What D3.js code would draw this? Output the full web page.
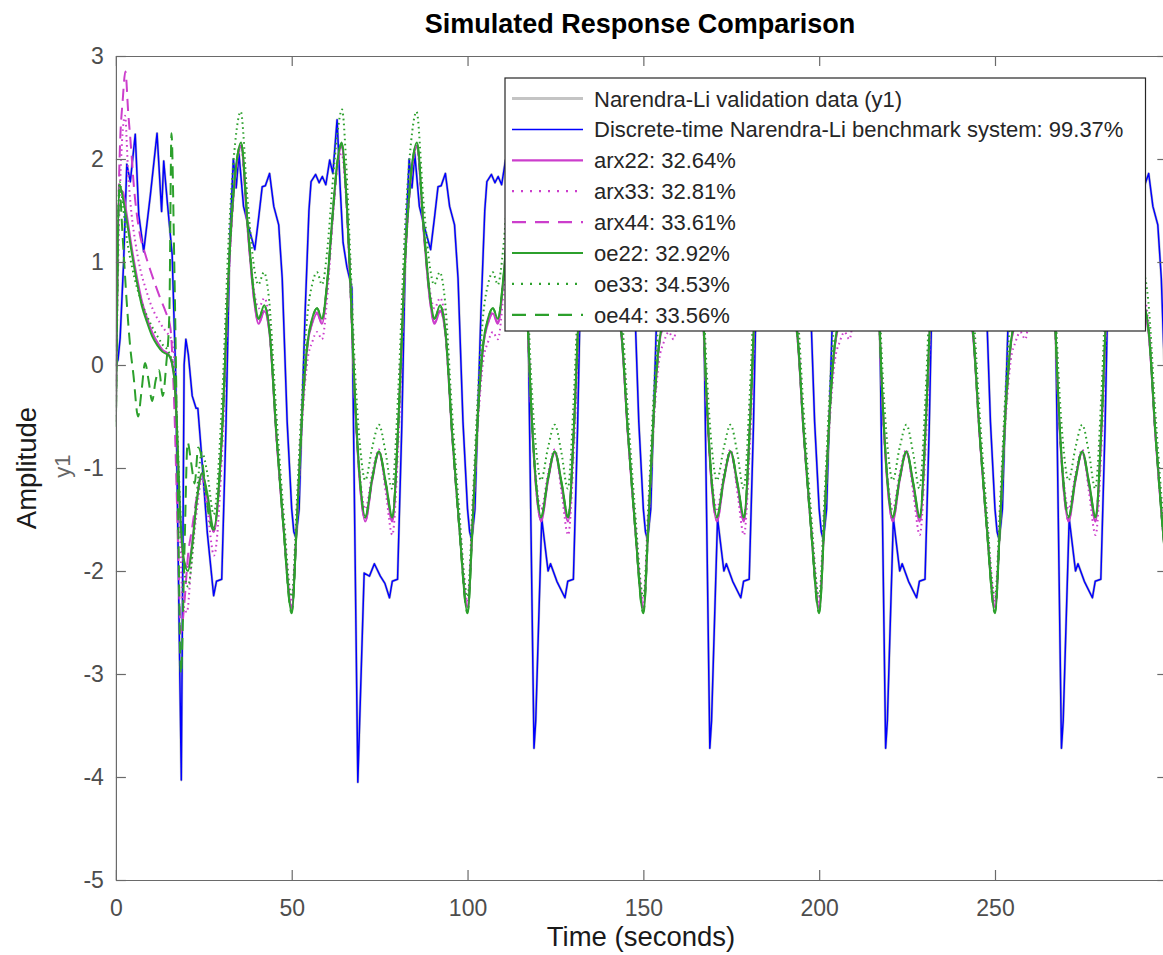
<!DOCTYPE html>
<html><head><meta charset="utf-8">
<script src="https://cdn.jsdelivr.net/npm/d3@7"></script>
<style>
body{margin:0;background:#fff;}
text{font-family:"Liberation Sans",Arial,Helvetica,sans-serif;}
</style>
</head><body>
<svg id="c" width="1163" height="955"></svg>
<script>
// ---------------- data ----------------
const timeTicks = [0, 50, 100, 150, 200, 250];
const ampTicks = [-5, -4, -3, -2, -1, 0, 1, 2, 3];
const legendLabels = [
  "Narendra-Li validation data (y1)",
  "Discrete-time Narendra-Li benchmark system: 99.37%",
  "arx22: 32.64%",
  "arx33: 32.81%",
  "arx44: 33.61%",
  "oe22: 32.92%",
  "oe33: 34.53%",
  "oe44: 33.56%"
];
// start times of the repeating 50 s input cycle seen in the picture
const cycleStarts = [50, 100, 150, 200, 250];

// benchmark system (blue), first 50 s [t, y]
const blueFirst = [[0,0.00],[0.6,0.05],[1.2,0.26],[2.2,1.00],[3.1,1.95],[4.1,1.78],[5.5,2.24],[6.5,1.46],[7.9,1.10],[9.8,1.65],[11.7,2.25],[13.0,1.49],[13.6,1.98],[14.6,1.59],[16.0,1.07],[17.0,-0.10],[18.6,-4.03],[19.4,0.00],[19.9,0.25],[20.6,0.10],[21.7,-0.30],[22.8,-0.42],[23.3,-0.42],[24.1,-0.76],[26.0,-1.63],[27.8,-2.24],[28.6,-2.10],[30.1,-2.08],[31.3,-0.60],[32.4,1.20],[33.4,2.00],[34.2,1.72],[35.0,2.05],[36.3,1.54],[37.8,1.33],[39.5,1.12],[40.6,1.43],[41.6,1.73],[42.5,1.74],[43.7,1.86],[44.9,1.54],[46.3,1.36],[47.3,0.84],[48.7,-0.55]];
// blue, cycle starting at 50 [offset, y]
const blueCycleA = [[0,-1.40],[0.6,-1.62],[1.2,-1.68],[2.1,-1.40],[3.8,0.50],[4.9,1.50],[5.5,1.78],[6.8,1.85],[7.8,1.77],[8.7,1.83],[9.7,1.75],[10.8,1.99],[11.7,1.86],[12.9,2.38],[13.8,1.71],[14.6,1.19],[15.7,0.95],[17.1,0.75],[18.8,-4.05],[20.6,-2.02],[22.1,-2.05],[23.5,-1.93],[25.2,-2.05],[26.5,-2.12],[27.8,-2.26],[28.6,-2.10],[30.1,-2.08],[31.3,-0.60],[32.4,1.20],[33.4,2.00],[34.2,1.72],[35.0,2.05],[36.3,1.54],[37.8,1.33],[39.5,1.12],[40.6,1.43],[41.6,1.73],[42.5,1.74],[43.7,1.86],[44.9,1.54],[46.3,1.36],[47.3,0.84],[48.7,-0.55],[50,-1.40]];
// blue, later cycles [offset, y]
const blueCycleB = [[0,-1.40],[0.6,-1.62],[1.2,-1.70],[2.1,-1.40],[3.8,0.50],[4.9,1.50],[5.5,1.78],[6.8,1.85],[7.8,1.77],[8.7,1.83],[9.7,1.75],[10.8,1.99],[11.7,1.86],[12.9,2.38],[13.8,1.71],[14.6,1.19],[15.7,0.95],[17.1,0.75],[18.9,-3.72],[19.4,-3.45],[21.1,-1.49],[22.9,-2.00],[23.6,-1.93],[25.4,-2.10],[27.7,-2.26],[28.5,-2.10],[30.1,-2.08],[31.3,-0.60],[32.4,1.20],[33.4,2.00],[34.2,1.72],[35.0,2.05],[36.3,1.54],[37.8,1.33],[39.5,1.12],[40.6,1.43],[41.6,1.73],[42.5,1.74],[43.7,1.86],[44.9,1.54],[46.3,1.36],[47.3,0.84],[48.7,-0.55],[50,-1.40]];

const arx22First = [[0,-0.55],[1,1.70],[2,1.68],[3,1.48],[4.6,1.12],[6,0.85],[7.4,0.62],[8.8,0.46],[10.3,0.32],[11.8,0.22],[13.2,0.15],[15.1,0.10],[16.5,-0.10],[17.3,-0.60],[18.3,-1.50],[19.4,-1.92],[20.5,-1.96],[21.6,-1.75],[22.9,-1.35],[24.5,-1.05],[26.0,-1.28],[27.8,-1.62],[30.4,-0.52],[32.2,0.98],[34.0,1.85],[35.6,2.12],[37.5,1.30],[39.4,0.60],[40.6,0.40],[42.2,0.52],[43.7,0.30],[45.6,-0.68],[47.6,-1.55]];
const arx22Cycle = [[0,-2.35],[1.5,-1.48],[3.0,-0.45],[4.5,0.20],[5.8,0.40],[7.2,0.50],[8.6,0.40],[10.2,0.82],[11.6,1.42],[13.0,1.95],[14.2,2.12],[15.4,1.70],[16.5,0.92],[17.9,-0.28],[19.5,-1.20],[20.9,-1.52],[22.9,-1.12],[24.8,-0.85],[26.8,-1.18],[28.6,-1.52],[30.4,-0.52],[32.2,0.98],[34.0,1.85],[35.6,2.12],[37.5,1.30],[39.4,0.60],[40.6,0.40],[42.2,0.52],[43.7,0.30],[45.6,-0.68],[47.6,-1.55],[50,-2.35]];

const arx33First = [[0,-0.30],[1,1.50],[2,2.30],[2.6,2.42],[3.5,1.85],[4.5,1.45],[5.5,1.20],[7,0.92],[8.4,0.75],[9.8,0.60],[11.2,0.49],[12.7,0.40],[14.1,0.33],[16,0.23],[17,-0.20],[18,-1.30],[19,-2.30],[20.2,-2.40],[21.5,-1.90],[22.9,-1.45],[24.5,-1.10],[26,-1.40],[27.9,-1.85],[30.4,-0.70],[32.2,0.90],[34.0,1.85],[35.6,2.10],[37.5,1.35],[39.4,0.70],[40.6,0.55],[42.2,0.65],[43.7,0.40],[45.6,-0.65],[47.6,-1.50]];
const arx33Cycle = [[0,-2.30],[1.5,-1.50],[3.0,-0.55],[4.5,0.05],[5.8,0.22],[7.2,0.32],[8.6,0.25],[10.2,0.70],[11.6,1.38],[13.0,1.92],[14.2,2.05],[15.4,1.65],[16.5,0.90],[17.9,-0.30],[19.5,-1.10],[20.9,-1.40],[22.9,-1.05],[24.8,-0.82],[26.8,-1.25],[28.6,-1.65],[30.4,-0.70],[32.2,0.90],[34.0,1.85],[35.6,2.10],[37.5,1.35],[39.4,0.70],[40.6,0.55],[42.2,0.65],[43.7,0.40],[45.6,-0.65],[47.6,-1.50],[50,-2.30]];

const arx44First = [[0,-0.20],[1,1.95],[2,2.60],[2.7,2.85],[3.5,2.45],[4.1,2.20],[5.2,1.70],[6.5,1.33],[8.4,1.07],[9.8,0.92],[11.2,0.78],[12.7,0.64],[14.1,0.52],[15.5,0.36],[16.5,-0.30],[17.5,-1.50],[18.5,-2.60],[19.5,-2.30],[20.5,-1.85],[21.6,-1.60],[22.9,-1.30],[24.5,-1.05],[26,-1.30],[27.8,-1.62],[30.4,-0.52],[32.2,0.98],[34.0,1.85],[35.6,2.13],[37.5,1.31],[39.4,0.61],[40.6,0.41],[42.2,0.53],[43.7,0.31],[45.6,-0.67],[47.6,-1.55]];
const arx44Cycle = [[0,-2.36],[1.5,-1.49],[3.0,-0.46],[4.5,0.19],[5.8,0.41],[7.2,0.51],[8.6,0.41],[10.2,0.83],[11.6,1.43],[13.0,1.96],[14.2,2.13],[15.4,1.71],[16.5,0.93],[17.9,-0.27],[19.5,-1.19],[20.9,-1.51],[22.9,-1.11],[24.8,-0.85],[26.8,-1.17],[28.6,-1.51],[30.4,-0.51],[32.2,0.99],[34.0,1.86],[35.6,2.13],[37.5,1.31],[39.4,0.61],[40.6,0.41],[42.2,0.53],[43.7,0.31],[45.6,-0.67],[47.6,-1.55],[50,-2.36]];

const oe22First = [[0,-0.60],[1,1.75],[2,1.62],[3,1.42],[4.6,1.07],[6,0.80],[7.4,0.57],[8.8,0.42],[10.3,0.28],[11.8,0.19],[13.2,0.13],[15.1,0.09],[16.5,-0.10],[17.3,-0.55],[18.3,-1.45],[19.4,-1.90],[20.5,-2.00],[21.6,-1.78],[22.9,-1.35],[24.5,-1.05],[26.0,-1.25],[27.8,-1.58],[30.4,-0.50],[32.2,1.00],[34.0,1.88],[35.6,2.16],[37.5,1.35],[39.4,0.65],[40.6,0.45],[42.2,0.58],[43.7,0.33],[45.6,-0.65],[47.6,-1.55]];
const oe22Cycle = [[0,-2.40],[1.5,-1.50],[3.0,-0.45],[4.5,0.22],[5.8,0.45],[7.2,0.55],[8.6,0.45],[10.2,0.85],[11.6,1.45],[13.0,1.98],[14.2,2.16],[15.4,1.72],[16.5,0.95],[17.9,-0.25],[19.5,-1.15],[20.9,-1.47],[22.9,-1.10],[24.8,-0.84],[26.8,-1.15],[28.6,-1.47],[30.4,-0.50],[32.2,1.00],[34.0,1.88],[35.6,2.16],[37.5,1.35],[39.4,0.65],[40.6,0.45],[42.2,0.58],[43.7,0.33],[45.6,-0.65],[47.6,-1.55],[50,-2.40]];

const oe33First = [[0,-0.55],[1,1.78],[2,1.55],[3,1.25],[4.6,0.95],[6,0.75],[7.4,0.60],[8.8,0.48],[10.3,0.37],[11.8,0.28],[13.2,0.20],[15.1,0.12],[16.5,-0.05],[17.3,-0.50],[18.3,-1.40],[19.4,-2.00],[20.5,-2.15],[21.6,-1.90],[22.9,-1.30],[24.5,-0.85],[26.0,-1.05],[27.8,-1.45],[30.3,-0.25],[32.1,1.25],[33.9,2.15],[35.5,2.46],[37.4,1.62],[39.3,0.95],[40.5,0.78],[42.1,0.90],[43.6,0.62],[45.5,-0.40],[47.5,-1.35]];
const oe33Cycle = [[0,-2.25],[1.5,-1.30],[3.0,-0.25],[4.5,0.50],[5.8,0.78],[7.2,0.90],[8.6,0.78],[10.2,1.15],[11.6,1.75],[13.0,2.25],[14.3,2.48],[15.5,1.95],[16.6,1.10],[18.0,-0.05],[19.6,-0.85],[20.9,-1.12],[22.9,-0.80],[24.8,-0.58],[26.7,-0.85],[28.5,-1.20],[30.3,-0.25],[32.1,1.25],[33.9,2.15],[35.5,2.46],[37.4,1.62],[39.3,0.95],[40.5,0.78],[42.1,0.90],[43.6,0.62],[45.5,-0.40],[47.5,-1.35],[50,-2.25]];

const oe44First = [[0,-0.60],[1,1.70],[2,1.20],[3,0.65],[4,0.20],[5,-0.10],[6.3,-0.50],[7.3,-0.25],[8.3,0.02],[9.3,-0.15],[10.3,-0.35],[11.3,-0.15],[12.3,-0.05],[13.3,-0.30],[14.3,0.00],[15.2,0.50],[15.8,2.25],[16.6,1.00],[17.6,-1.20],[18.5,-3.00],[19.5,-1.80],[20.4,-0.75],[21.4,-0.95],[22.4,-1.15],[23.4,-0.80],[24.4,-0.90],[25.5,-1.20],[26.6,-1.50],[27.8,-1.60],[30.4,-0.52],[32.2,1.00],[34.0,1.88],[35.6,2.15],[37.5,1.35],[39.4,0.64],[40.6,0.45],[42.2,0.57],[43.7,0.33],[45.6,-0.65],[47.6,-1.56]];
const oe44Cycle = [[0,-2.41],[1.5,-1.51],[3.0,-0.46],[4.5,0.21],[5.8,0.44],[7.2,0.55],[8.6,0.45],[10.2,0.84],[11.6,1.44],[13.0,1.97],[14.2,2.15],[15.4,1.71],[16.5,0.94],[17.9,-0.26],[19.5,-1.16],[20.9,-1.48],[22.9,-1.10],[24.8,-0.84],[26.8,-1.16],[28.6,-1.48],[30.4,-0.51],[32.2,0.99],[34.0,1.87],[35.6,2.15],[37.5,1.34],[39.4,0.64],[40.6,0.45],[42.2,0.57],[43.7,0.33],[45.6,-0.66],[47.6,-1.56],[50,-2.41]];

// ---------------- chart ----------------
const W = 1163, H = 955;
const svg = d3.select("#c");
svg.append("rect").attr("width", W).attr("height", H).attr("fill", "#fff");

const x = d3.scaleLinear().domain([0, 299]).range([115.9, 1167.3]);
const y = d3.scaleLinear().domain([-5, 3]).range([880, 56]);

function build(first, cycles) {
  const pts = first.map(d => ({t: d[0], v: d[1]}));
  cycleStarts.forEach((s, i) => {
    cycles[i].forEach(d => pts.push({t: s + d[0], v: d[1]}));
  });
  return pts;
}
const rep = c => cycleStarts.map(() => c);

const gray = "#c4c4c4", blue = "#0000ff", mag = "#cc3ecc", grn = "#2ca02c";
const DOT = "1.6,3.4", DASH = "12,7";

const series = [
  {data: build(blueFirst, [blueCycleA, blueCycleB, blueCycleB, blueCycleB, blueCycleB]), color: gray, w: 2.6, dash: null, curve: d3.curveLinear},
  {data: build(blueFirst, [blueCycleA, blueCycleB, blueCycleB, blueCycleB, blueCycleB]), color: blue, w: 1.5, dash: null, curve: d3.curveLinear},
  {data: build(arx22First, rep(arx22Cycle)), color: mag, w: 2, dash: null, curve: d3.curveMonotoneX},
  {data: build(arx33First, rep(arx33Cycle)), color: mag, w: 2, dash: DOT, curve: d3.curveMonotoneX},
  {data: build(arx44First, rep(arx44Cycle)), color: mag, w: 2, dash: DASH, curve: d3.curveMonotoneX},
  {data: build(oe22First, rep(oe22Cycle)), color: grn, w: 2, dash: null, curve: d3.curveMonotoneX},
  {data: build(oe33First, rep(oe33Cycle)), color: grn, w: 2, dash: DOT, curve: d3.curveMonotoneX},
  {data: build(oe44First, rep(oe44Cycle)), color: grn, w: 2, dash: DASH, curve: d3.curveMonotoneX}
];

svg.append("defs").append("clipPath").attr("id", "clip")
  .append("rect").attr("x", x(0)).attr("y", y(3))
  .attr("width", x(299) - x(0)).attr("height", y(-5) - y(3));

const plot = svg.append("g").attr("clip-path", "url(#clip)");
series.forEach(s => {
  const line = d3.line().x(d => x(d.t)).y(d => y(d.v)).curve(s.curve);
  plot.append("path").datum(s.data)
    .attr("fill", "none").attr("stroke", s.color).attr("stroke-width", s.w)
    .attr("stroke-dasharray", s.dash).attr("stroke-linejoin", "round")
    .attr("d", line);
});

// axes
const axisColor = "#6a6a6a", tickText = "#4d4d4d";
function styleAxis(g) {
  g.select(".domain").attr("stroke", axisColor).attr("stroke-width", 1.2);
  g.selectAll(".tick line").attr("stroke", axisColor).attr("stroke-width", 1.2);
  g.selectAll(".tick text").attr("fill", tickText).style("font-size", "23px")
    .style("font-family", '"Liberation Sans",Arial,sans-serif');
}
const fmt = d => String(d);
svg.append("g").attr("transform", `translate(0,${y(-5)})`)
  .call(d3.axisBottom(x).tickValues(timeTicks).tickFormat(fmt).tickSizeInner(-10).tickSizeOuter(0).tickPadding(20))
  .call(styleAxis);
svg.append("g").attr("transform", `translate(${x(0)},0)`)
  .call(d3.axisLeft(y).tickValues(ampTicks).tickFormat(fmt).tickSizeInner(-10).tickSizeOuter(0).tickPadding(12))
  .call(styleAxis);
svg.append("g").attr("transform", `translate(0,${y(3)})`)
  .call(d3.axisTop(x).tickValues(timeTicks).tickFormat(() => "").tickSizeInner(-10).tickSizeOuter(0))
  .call(styleAxis);
svg.append("g").attr("transform", `translate(${x(299)},0)`)
  .call(d3.axisRight(y).tickValues(ampTicks).tickFormat(() => "").tickSizeInner(-10).tickSizeOuter(0))
  .call(styleAxis);

// titles
const cx = (x(0) + x(299)) / 2;
svg.append("text").attr("x", 640).attr("y", 33).attr("text-anchor", "middle")
  .style("font-size", "27px").style("font-weight", "bold").attr("fill", "#000")
  .text("Simulated Response Comparison");
svg.append("text").attr("x", 641).attr("y", 946).attr("text-anchor", "middle")
  .style("font-size", "27.5px").attr("fill", "#1a1a1a").text("Time (seconds)");
svg.append("text").attr("transform", `translate(36,${(y(3) + y(-5)) / 2}) rotate(-90)`)
  .attr("text-anchor", "middle").style("font-size", "27.5px").attr("fill", "#1a1a1a").text("Amplitude");
svg.append("text").attr("transform", `translate(70,${(y(3) + y(-5)) / 2 - 2}) rotate(-90)`)
  .attr("text-anchor", "middle").style("font-size", "22px").attr("fill", "#666").text("y1");

// legend
const lg = svg.append("g");
lg.append("rect").attr("x", 505).attr("y", 78).attr("width", 640.5).attr("height", 253)
  .attr("fill", "#fff").attr("stroke", "#262626").attr("stroke-width", 1.2);
const legStyles = [
  {color: gray, w: 3, dash: null},
  {color: blue, w: 1.5, dash: null},
  {color: mag, w: 2.2, dash: null},
  {color: mag, w: 2.2, dash: "2,7"},
  {color: mag, w: 2.2, dash: "14,9"},
  {color: grn, w: 2.2, dash: null},
  {color: grn, w: 2.2, dash: "2,7"},
  {color: grn, w: 2.2, dash: "14,9"}
];
legendLabels.forEach((lab, i) => {
  const cy = 98.5 + i * 30.9;
  const st = legStyles[i];
  lg.append("line").attr("x1", 512).attr("x2", 583).attr("y1", cy).attr("y2", cy)
    .attr("stroke", st.color).attr("stroke-width", st.w).attr("stroke-dasharray", st.dash);
  lg.append("text").attr("x", 594).attr("y", cy + 8).style("font-size", "22px")
    .attr("fill", "#262626").text(lab);
});
</script>
</body></html>
